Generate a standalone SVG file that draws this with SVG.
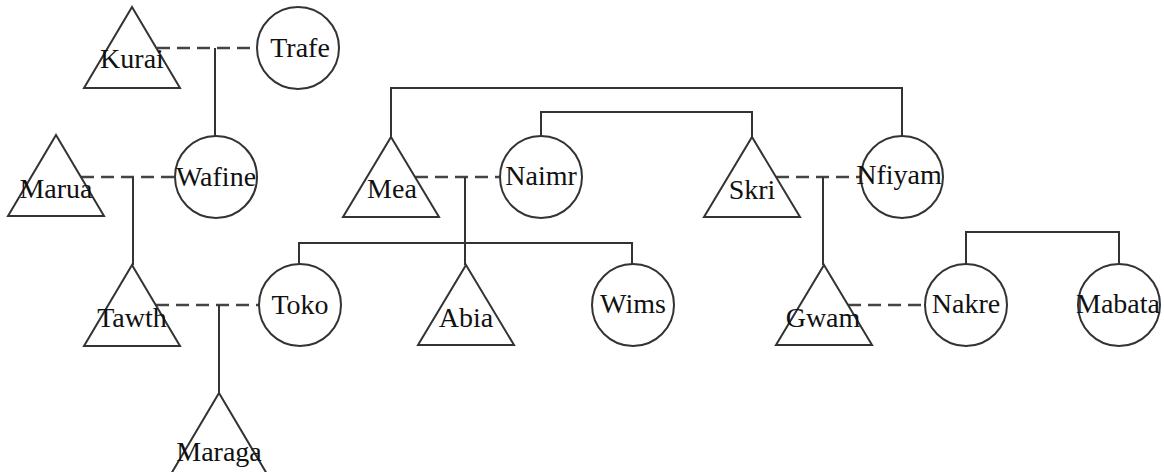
<svg xmlns="http://www.w3.org/2000/svg" width="1164" height="472" viewBox="0 0 1164 472">
<style>
.shape{fill:#fff;stroke:#333;stroke-width:2}
.line{fill:none;stroke:#333;stroke-width:2}
.dash{fill:none;stroke:#444;stroke-width:2.5;stroke-dasharray:13 7}
text{font-family:"Liberation Serif","DejaVu Serif",serif;font-size:28px;fill:#111;text-anchor:middle}
</style>
<rect width="1164" height="472" fill="#fff"/>
<g id="connectors">
<path class="dash" d="M157 48H257"/>
<path class="line" d="M215 48V136"/>
<path class="dash" d="M81 177H175"/>
<path class="line" d="M133 177V265"/>
<path class="dash" d="M156 305H259"/>
<path class="line" d="M219 305V393"/>
<path class="dash" d="M415 177H500"/>
<path class="line" d="M465 177V265"/>
<path class="line" d="M299 264V243H632V264"/>
<path class="dash" d="M776 177H861"/>
<path class="line" d="M823 177V265"/>
<path class="dash" d="M848 305H925"/>
<path class="line" d="M966 264V232H1119V264"/>
<path class="line" d="M391 137V88H902V136"/>
<path class="line" d="M541 136V112H752V137"/>
</g>
<g id="Kurai"><path class="shape" d="M132 7L180 88H84Z"/><text x="132" y="68">Kurai</text></g>
<g id="Trafe"><circle class="shape" cx="298" cy="48" r="41"/><text x="300" y="57">Trafe</text></g>
<g id="Marua"><path class="shape" d="M56 135L104 216H8Z"/><text x="56" y="198">Marua</text></g>
<g id="Wafine"><circle class="shape" cx="216" cy="177" r="41"/><text x="216" y="186">Wafine</text></g>
<g id="Tawth"><path class="shape" d="M132 265L180 346H84Z"/><text x="132" y="327">Tawth</text></g>
<g id="Toko"><circle class="shape" cx="300" cy="305" r="41"/><text x="300" y="314">Toko</text></g>
<g id="Maraga"><path class="shape" d="M219 393L267 474H171Z"/><text x="219" y="461">Maraga</text></g>
<g id="Mea"><path class="shape" d="M391 137L439 217H343Z"/><text x="392" y="198">Mea</text></g>
<g id="Naimr"><circle class="shape" cx="541" cy="177" r="41"/><text x="541" y="185">Naimr</text></g>
<g id="Skri"><path class="shape" d="M752 137L800 217H704Z"/><text x="752" y="199">Skri</text></g>
<g id="Nfiyam"><circle class="shape" cx="902" cy="177" r="41"/><text x="899" y="184">Nfiyam</text></g>
<g id="Abia"><path class="shape" d="M466 265L514 345H418Z"/><text x="466" y="327">Abia</text></g>
<g id="Wims"><circle class="shape" cx="633" cy="305" r="41"/><text x="633" y="313">Wims</text></g>
<g id="Gwam"><path class="shape" d="M824 265L872 345H776Z"/><text x="823" y="327">Gwam</text></g>
<g id="Nakre"><circle class="shape" cx="966" cy="305" r="41"/><text x="966" y="313">Nakre</text></g>
<g id="Mabata"><circle class="shape" cx="1119" cy="305" r="41"/><text x="1118" y="313">Mabata</text></g>
</svg>
